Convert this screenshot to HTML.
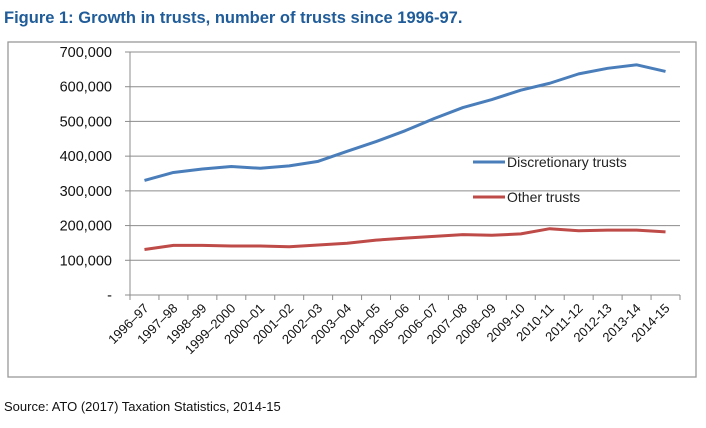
<!DOCTYPE html>
<html><head><meta charset="utf-8"><style>
body{margin:0;background:#fff;width:706px;height:423px;overflow:hidden;font-family:"Liberation Sans",sans-serif}
</style></head><body>
<svg width="706" height="423">
<text x="4" y="23" font-size="16.5" font-weight="bold" fill="#1f5c99">Figure 1: Growth in trusts, number of trusts since 1996-97.</text>
<rect x="8" y="42" width="688" height="335" fill="none" stroke="#999" stroke-width="1.3"/>
<g id="grid"></g><g id="axes"></g><g id="series"></g>
<g>
<line x1="473" y1="162" x2="505" y2="162" stroke="#4a7ebb" stroke-width="3"/>
<text x="507" y="167" font-size="14" fill="#222">Discretionary trusts</text>
<line x1="473" y1="197" x2="505" y2="197" stroke="#be4b48" stroke-width="3"/>
<text x="507" y="202" font-size="14" fill="#222">Other trusts</text>
</g>
<text x="4" y="411" font-size="13" fill="#111">Source: ATO (2017) Taxation Statistics, 2014-15</text>
</svg>
<script>
const categories=["1996–97","1997–98","1998–99","1999–2000","2000–01","2001–02","2002–03","2003–04","2004–05","2005–06","2006–07","2007–08","2008–09","2009-10","2010-11","2011-12","2012-13","2013-14","2014-15"];
const discretionary=[330000,353000,363000,370000,365000,372000,385000,414000,442000,473000,508000,540000,563000,590000,610000,637000,653000,663000,644000];
const other=[131000,143000,143000,141000,141000,139000,144000,149000,158000,164000,169000,174000,172000,176000,191000,185000,187000,187000,182000];
const yTicks=[0,100000,200000,300000,400000,500000,600000,700000];
const yTickLabels=["-","100,000","200,000","300,000","400,000","500,000","600,000","700,000"];
const NS="http://www.w3.org/2000/svg";
const L=130,R=680,T=52,B=295;
const bw=(R-L)/categories.length;
const x=i=>L+bw*(i+0.5);
const y=v=>B-(v/700000)*(B-T);
function mk(tag,attrs,parent,text){const e=document.createElementNS(NS,tag);for(const k in attrs)e.setAttribute(k,attrs[k]);if(text!=null)e.textContent=text;document.getElementById(parent).appendChild(e);return e;}
yTicks.forEach((v,i)=>{
 if(v>0){const g=mk("line",{x1:L,x2:R,y1:y(v),y2:y(v),stroke:"#8c8c8c","stroke-width":1},"grid");
 
 }
 const tk=mk("line",{x1:L-5,x2:L,y1:y(v),y2:y(v),stroke:"#8c8c8c"},"axes");
 
 
 const t=mk("text",{x:112,y:y(v)+5,"text-anchor":"end","font-size":"14.5",fill:"#111"},"axes",yTickLabels[i]);
 
 
});
let a=mk("line",{x1:L,x2:L,y1:T,y2:B,stroke:"#8c8c8c"},"axes");


a=mk("line",{x1:L,x2:R,y1:B,y2:B,stroke:"#8c8c8c"},"axes");


for(let i=0;i<=categories.length;i++){const tk=mk("line",{x1:L+bw*i,x2:L+bw*i,y1:B,y2:B+5,stroke:"#8c8c8c"},"axes");
 
 }
categories.forEach((c,i)=>{
 const tx=x(i)+5,ty=B+14;
 const t=mk("text",{x:tx,y:ty,"text-anchor":"end","font-size":"13",fill:"#111",transform:`rotate(-45 ${tx} ${ty})`},"axes",c);
 
 
});
function line(data,color,name){
 const p=mk("polyline",{points:data.map((v,i)=>x(i)+","+y(v)).join(" "),fill:"none",stroke:color,"stroke-width":3,"stroke-linejoin":"round"},"series");
 
 
}
line(discretionary,"#4a7ebb","discretionary-trusts-line");
line(other,"#be4b48","other-trusts-line");
</script>
</body></html>
